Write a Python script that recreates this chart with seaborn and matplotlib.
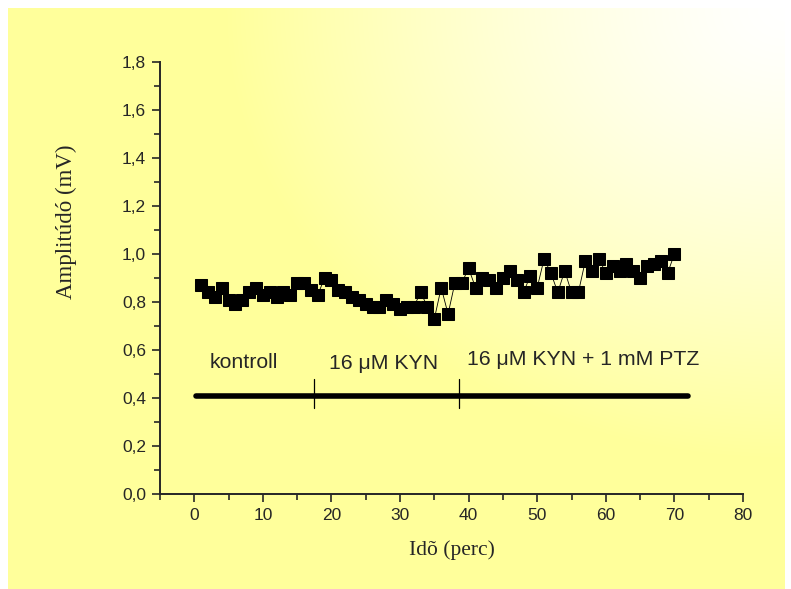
import numpy as np
import matplotlib
matplotlib.use("Agg")
import matplotlib.pyplot as plt
from matplotlib.ticker import MultipleLocator, FuncFormatter
import seaborn as sns

time_min = [1, 2, 3, 4, 5, 6, 7, 8, 9, 10,
            11, 12, 13, 14, 15, 16, 17, 18, 19, 20,
            21, 22, 23, 24, 25, 26, 27, 28, 29, 30,
            31, 32, 33, 34, 35, 36, 37, 38, 39, 40,
            41, 42, 43, 44, 45, 46, 47, 48, 49, 50,
            51, 52, 53, 54, 55, 56, 57, 58, 59, 60,
            61, 62, 63, 64, 65, 66, 67, 68, 69, 70]
amplitude_mv = [0.87, 0.84, 0.82, 0.86, 0.81, 0.79, 0.81, 0.84, 0.86, 0.83,
                0.84, 0.82, 0.84, 0.83, 0.88, 0.88, 0.85, 0.83, 0.90, 0.89,
                0.85, 0.84, 0.82, 0.81, 0.79, 0.78, 0.78, 0.81, 0.79, 0.77,
                0.78, 0.78, 0.84, 0.78, 0.73, 0.86, 0.75, 0.88, 0.88, 0.94,
                0.86, 0.90, 0.89, 0.86, 0.90, 0.93, 0.89, 0.84, 0.91, 0.86,
                0.98, 0.92, 0.84, 0.93, 0.84, 0.84, 0.97, 0.93, 0.98, 0.92,
                0.95, 0.93, 0.96, 0.93, 0.90, 0.95, 0.96, 0.97, 0.92, 1.00]

# treatment periods drawn as a bar under the data
bar_start, bar_end, bar_level = 0.3, 72.0, 0.41
phase_marks = [17.5, 38.6]
phase_labels = ["kontroll", "16 \u03bcM KYN", "16 \u03bcM KYN + 1 mM PTZ"]
phase_label_x = [2.3, 19.6, 39.8]
phase_label_y = [0.55, 0.545, 0.56]

sns.set_style("ticks")
plt.rcParams["font.family"] = ["Liberation Sans", "DejaVu Sans"]

W, H = 791, 589
fig = plt.figure(figsize=(W / 100, H / 100), dpi=100)
fig.patch.set_facecolor("white")

# gradient background: white in the upper right corner, pale yellow elsewhere
bg = fig.add_axes([8 / W, 0, 777 / W, 581 / H])
bg.set_axis_off()
yy, xx = np.mgrid[0:581, 0:777]
d = np.sqrt(((xx - 777) / 560.0) ** 2 + (yy / 450.0) ** 2)
w = np.clip(d, 0, 1) ** 1.3
yellow = np.array([1.0, 1.0, 0.61])
img = (1 - w)[..., None] * np.ones(3) + w[..., None] * yellow
bg.imshow(img, aspect="auto", origin="upper")

ax = fig.add_axes([160 / W, 95 / H, 583 / W, 432 / H])
ax.set_facecolor("none")

sns.lineplot(x=time_min, y=amplitude_mv, ax=ax, color="black", lw=0.6,
             marker="s", markersize=8.3, markeredgecolor="black")

ax.plot([bar_start, bar_end], [bar_level, bar_level], color="black", lw=4,
        solid_capstyle="round")
for xm in phase_marks:
    ax.plot([xm, xm], [0.36, 0.48], color="black", lw=0.9)
for lbl, lx, ly in zip(phase_labels, phase_label_x, phase_label_y):
    ax.text(lx, ly, lbl, fontsize=15.3, va="center", ha="left",
            family=["Liberation Sans", "DejaVu Sans"])

ax.set_xlim(-5, 80)
ax.set_ylim(0, 1.8)
ax.xaxis.set_major_locator(MultipleLocator(10))
ax.xaxis.set_minor_locator(MultipleLocator(5))
ax.yaxis.set_major_locator(MultipleLocator(0.2))
ax.yaxis.set_minor_locator(MultipleLocator(0.1))
ax.yaxis.set_major_formatter(FuncFormatter(lambda v, p: f"{v:.1f}".replace(".", ",")))
ax.xaxis.set_major_formatter(FuncFormatter(lambda v, p: "" if v < 0 else f"{v:.0f}"))

sns.despine(ax=ax)
for s in ["left", "bottom"]:
    ax.spines[s].set_linewidth(1.4)
ax.tick_params(which="major", direction="out", length=6, width=1.2, pad=4,
               labelsize=12.5)
ax.tick_params(which="minor", direction="out", length=4, width=1.2)
for t in ax.get_xticklabels() + ax.get_yticklabels():
    t.set_family(["Liberation Sans Narrow", "Liberation Sans", "DejaVu Sans"])

ax.set_xlabel("")
ax.set_ylabel("")
ax.text(0.5, -0.131, "Id\u00f5 (perc)", transform=ax.transAxes, ha="center",
        va="center", fontsize=15.5, family=["Liberation Serif", "DejaVu Serif"])
ax.text(-0.16, 0.63, "Amplit\u00fad\u00f3 (mV)", transform=ax.transAxes,
        ha="center", va="center", rotation=90, fontsize=16.5,
        family=["Liberation Serif", "DejaVu Serif"])

fig.savefig("out.png", dpi=100)
